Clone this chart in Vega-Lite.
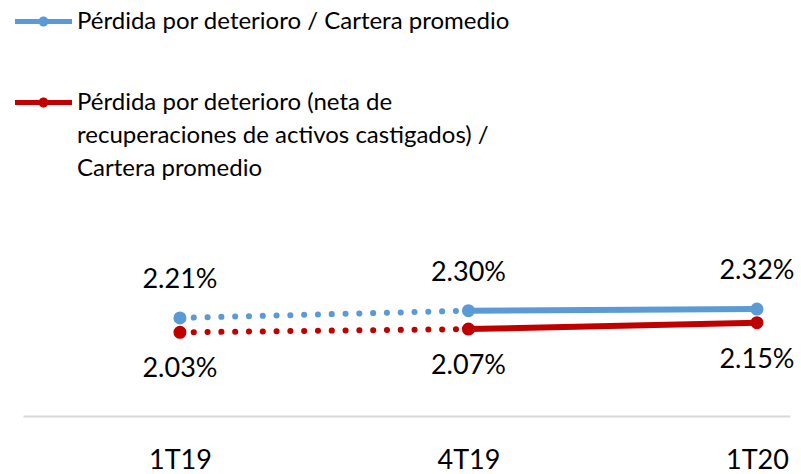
{
  "$schema": "https://vega.github.io/schema/vega-lite/v6.json",
  "width": 767,
  "height": 187,
  "autosize": {"type": "none"},
  "padding": {"left": 23, "top": 229, "right": 11, "bottom": 58},
  "background": "white",
  "config": {"view": {"stroke": null}, "font": "Lato"},
  "data": {
    "values": [
      {"periodo": "1T19", "serie": "Pérdida por deterioro / Cartera promedio", "valor": 0.0221},
      {"periodo": "4T19", "serie": "Pérdida por deterioro / Cartera promedio", "valor": 0.0230},
      {"periodo": "1T20", "serie": "Pérdida por deterioro / Cartera promedio", "valor": 0.0232},
      {"periodo": "1T19", "serie": "Pérdida por deterioro (neta de recuperaciones de activos castigados) / Cartera promedio", "valor": 0.0203},
      {"periodo": "4T19", "serie": "Pérdida por deterioro (neta de recuperaciones de activos castigados) / Cartera promedio", "valor": 0.0207},
      {"periodo": "1T20", "serie": "Pérdida por deterioro (neta de recuperaciones de activos castigados) / Cartera promedio", "valor": 0.0215}
    ]
  },
  "encoding": {
    "x": {
      "field": "periodo",
      "type": "ordinal",
      "sort": ["1T19", "4T19", "1T20"],
      "scale": {"type": "point", "padding": 0.3293, "align": 0.826},
      "axis": {
        "title": null,
        "ticks": false,
        "grid": false,
        "domainColor": "#d9d9d9",
        "domainWidth": 2,
        "labelFontSize": 27,
        "labelColor": "#000000",
        "labelPadding": 31,
        "labelAngle": 0,
        "labelBaseline": "top"
      }
    },
    "y": {
      "field": "valor",
      "type": "quantitative",
      "scale": {"domain": [0.00984, 0.03321], "nice": false, "zero": false},
      "axis": null
    },
    "color": {
      "field": "serie",
      "type": "nominal",
      "scale": {
        "domain": ["Pérdida por deterioro / Cartera promedio", "Pérdida por deterioro (neta de recuperaciones de activos castigados) / Cartera promedio"],
        "range": ["#5b9bd5", "#c00000"]
      },
      "legend": {
        "title": null,
        "orient": "none",
        "legendX": -8,
        "legendY": -236,
        "direction": "vertical",
        "padding": 0,
        "symbolType": "M-1,-0.088H1V0.088H-1ZM0.175,0A0.175,0.175,0,1,1,-0.175,0A0.175,0.175,0,1,1,0.175,0Z",
        "symbolSize": 3249,
        "symbolStrokeWidth": 0,
        "labelFontSize": 24,
        "labelColor": "#000000",
        "labelLimit": 0,
        "labelOffset": 5,
        "labelBaseline": "middle",
        "rowPadding": 40,
        "labelExpr": "indexof(datum.label, 'neta') >= 0 ? ['Pérdida por deterioro (neta de', 'recuperaciones de activos castigados) /', 'Cartera promedio'] : datum.label",
        "encode": {
          "symbols": {"update": {"fill": {"scale": "color", "field": "value"}, "fillOpacity": {"value": 1}, "strokeWidth": {"value": 0}}},
          "labels": {"update": {"lineHeight": {"value": 33}}}
        }
      }
    }
  },
  "layer": [
    {
      "transform": [{"filter": "datum.periodo != '1T20'"}],
      "mark": {"type": "line", "strokeWidth": 6, "strokeDash": [0.1, 13.7], "strokeCap": "round"}
    },
    {
      "transform": [{"filter": "datum.periodo != '1T19'"}],
      "mark": {"type": "line", "strokeWidth": 6}
    },
    {
      "mark": {"type": "point", "filled": true, "size": 170, "opacity": 1}
    },
    {
      "transform": [{"filter": "indexof(datum.serie, 'neta') < 0"}],
      "mark": {"type": "text", "dy": -38, "fontSize": 27},
      "encoding": {"text": {"field": "valor", "type": "quantitative", "format": ".2%"}, "color": {"value": "#000000"}}
    },
    {
      "transform": [{"filter": "indexof(datum.serie, 'neta') >= 0"}],
      "mark": {"type": "text", "dy": 37, "fontSize": 27},
      "encoding": {"text": {"field": "valor", "type": "quantitative", "format": ".2%"}, "color": {"value": "#000000"}}
    }
  ]
}
